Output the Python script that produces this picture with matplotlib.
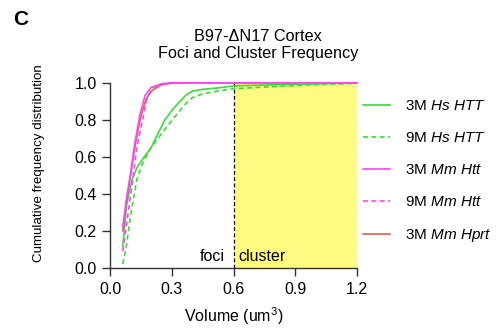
import numpy as np
import matplotlib.pyplot as plt

plt.rcParams['font.family'] = ['Liberation Sans', 'DejaVu Sans']
plt.rcParams['mathtext.fontset'] = 'custom'
plt.rcParams['mathtext.rm'] = 'Liberation Sans'
plt.rcParams['mathtext.it'] = 'Liberation Sans:italic'

# cumulative curves (volume in um^3, fraction)
hs3_x = [0.062, 0.081, 0.105, 0.13, 0.16, 0.2, 0.235, 0.267, 0.30, 0.34, 0.37, 0.40, 0.45, 0.52, 0.6, 0.8, 1.0, 1.2]
hs3_y = [0.115, 0.34, 0.47, 0.54, 0.59, 0.65, 0.73, 0.80, 0.85, 0.90, 0.935, 0.955, 0.965, 0.972, 0.983, 0.99, 0.995, 1.0]
hs9_x = [0.062, 0.08, 0.097, 0.13, 0.16, 0.2, 0.24, 0.275, 0.31, 0.34, 0.37, 0.40, 0.45, 0.52, 0.6, 0.8, 1.0, 1.2]
hs9_y = [0.02, 0.12, 0.26, 0.475, 0.57, 0.65, 0.71, 0.76, 0.81, 0.85, 0.89, 0.92, 0.94, 0.955, 0.968, 0.98, 0.99, 0.997]
mm3_x = [0.062, 0.08, 0.097, 0.12, 0.146, 0.17, 0.2, 0.25, 0.3, 0.4, 0.6, 0.9, 1.2]
mm3_y = [0.22, 0.37, 0.49, 0.67, 0.83, 0.93, 0.975, 0.995, 1.0, 1.0, 1.0, 1.0, 1.0]
mm9_x = [0.062, 0.085, 0.11, 0.13, 0.16, 0.18, 0.21, 0.24, 0.27, 0.3, 0.4, 0.6, 0.9, 1.2]
mm9_y = [0.09, 0.27, 0.47, 0.65, 0.81, 0.92, 0.975, 0.99, 0.998, 1.0, 1.0, 1.0, 1.0, 1.0]
hprt_x = [0.062, 0.08, 0.1, 0.125, 0.15, 0.175, 0.2, 0.25, 0.3, 0.4, 0.6, 0.9, 1.2]
hprt_y = [0.2, 0.36, 0.5, 0.68, 0.82, 0.91, 0.955, 0.99, 0.998, 1.0, 1.0, 1.0, 1.0]

labels = ['3M $\\it{Hs\\ HTT}$', '9M $\\it{Hs\\ HTT}$', '3M $\\it{Mm\\ Htt}$',
          '9M $\\it{Mm\\ Htt}$', '3M $\\it{Mm\\ Hprt}$']
green = '#3ADB3A'
magenta = '#FF45FF'
red = '#E3604F'

fig = plt.figure(figsize=(5, 3.34), dpi=100)
ax = fig.add_axes([0.22, 0.198, 0.494, 0.554])

ax.axvspan(0.6, 1.2, ymin=0, ymax=1, color='#FFFA80', zorder=0, lw=0)
ax.plot([0.6, 0.6], [0, 1.0], color='black', ls='--', lw=0.9, dashes=(3, 2), zorder=1)

ax.plot(hs3_x, hs3_y, color=green, lw=1.2, label=labels[0], zorder=3)
ax.plot(hs9_x, hs9_y, color=green, lw=1.2, ls='--', dashes=(3, 2), label=labels[1], zorder=3)
ax.plot(mm3_x, mm3_y, color=magenta, lw=1.2, label=labels[2], zorder=5)
ax.plot(mm9_x, mm9_y, color=magenta, lw=1.2, ls='--', dashes=(3, 2), label=labels[3], zorder=4)
ax.plot(hprt_x, hprt_y, color=red, lw=1.2, label=labels[4], zorder=4)
for ln in ax.lines:
    ln.set_clip_on(False)

ax.text(0.559, 0.061, 'foci', ha='right', va='center', fontsize=11.5)
ax.text(0.622, 0.061, 'cluster', ha='left', va='center', fontsize=11.5)

ax.set_xlim(0, 1.2)
ax.set_ylim(0, 1.0)
ax.set_xticks([0.0, 0.3, 0.6, 0.9, 1.2])
ax.set_yticks([0.0, 0.2, 0.4, 0.6, 0.8, 1.0])
ax.xaxis.set_major_formatter(plt.FormatStrFormatter('%.1f'))
ax.yaxis.set_major_formatter(plt.FormatStrFormatter('%.1f'))
ax.tick_params(labelsize=11.5, length=5.5, width=1, color='#333333')
ax.tick_params(axis='x', pad=5)
ax.tick_params(axis='y', pad=4)
for s in ['top', 'right']:
    ax.spines[s].set_visible(False)
for s in ['left', 'bottom']:
    ax.spines[s].set_linewidth(1)
    ax.spines[s].set_color('#333333')

ax.set_xlabel('Volume (um$^3$)', fontsize=11.5, labelpad=6)
ax.set_ylabel('Cumulative frequency distribution', fontsize=9.6)
ax.yaxis.set_label_coords(-0.263, 0.567)
fig.text(0.516, 1 - 45 / 334, 'B97-\u0394N17 Cortex\nFoci and Cluster Frequency',
         ha='center', va='center', fontsize=11.7, linespacing=1.22)

fig.text(0.026, 0.97, 'C', fontsize=15, fontweight='bold', va='top')

ax.legend(loc='upper left', bbox_to_anchor=(0.71, 0.725), bbox_transform=fig.transFigure,
          frameon=False, fontsize=11, labelspacing=1.17, handlelength=1.8,
          handletextpad=1.0, borderpad=0)

fig.savefig('out.png', dpi=100)
